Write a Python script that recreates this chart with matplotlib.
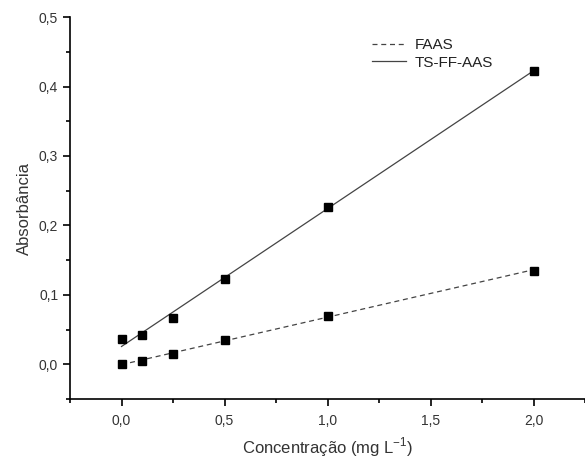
import numpy as np
import matplotlib
matplotlib.use("Agg")
import matplotlib.pyplot as plt
from matplotlib.ticker import FuncFormatter, MultipleLocator

conc = [0.0, 0.1, 0.25, 0.5, 1.0, 2.0]
faas = [0.0, 0.005, 0.015, 0.035, 0.070, 0.135]
tsff = [0.037, 0.042, 0.066, 0.123, 0.227, 0.423]

plt.rcParams['font.family'] = ['Liberation Sans', 'DejaVu Sans']

fig = plt.figure(figsize=(5.85, 4.61), dpi=100)
ax = fig.add_axes([0.1197, 0.1345, 0.8803, 0.8285])

x = np.array(conc)
xf = np.array([0.0, 2.0])
p1 = np.polyfit(x, faas, 1)
p2 = np.polyfit(x, tsff, 1)

ax.plot(xf, np.polyval(p1, xf), color='#444444', lw=0.9, ls=(0, (4, 3)), label='FAAS')
ax.plot(xf, np.polyval(p2, xf), color='#444444', lw=0.9, ls='-', label='TS-FF-AAS')
ax.plot(conc, faas, 's', color='black', ms=6, ls='none')
ax.plot(conc, tsff, 's', color='black', ms=6, ls='none')

ax.set_xlim(-0.25, 2.25)
ax.set_ylim(-0.05, 0.5)
ax.xaxis.set_major_locator(MultipleLocator(0.5))
ax.xaxis.set_minor_locator(MultipleLocator(0.25))
ax.yaxis.set_major_locator(MultipleLocator(0.1))
ax.yaxis.set_minor_locator(MultipleLocator(0.05))
fmt = FuncFormatter(lambda v, pos: f"{v:.1f}".replace('.', ','))
ax.xaxis.set_major_formatter(fmt)
ax.yaxis.set_major_formatter(fmt)
ax.set_xticks([0.0, 0.5, 1.0, 1.5, 2.0])

for s in ['top', 'right']:
    ax.spines[s].set_visible(False)
for s in ['left', 'bottom']:
    ax.spines[s].set_linewidth(1.2)
ax.tick_params(which='major', direction='out', length=5, width=1.2, labelsize=10, colors='black', labelcolor='#333333')
ax.tick_params(which='minor', direction='out', length=3, width=1.2)
ax.tick_params(axis='x', which='major', pad=6)

ax.set_xlabel('Concentração (mg L$^{\\mathregular{-1}}$)', fontsize=12, color='#333333', labelpad=5)
ax.set_ylabel('Absorbância', fontsize=12, color='#333333', labelpad=5)

ax.legend(loc='upper left', bbox_to_anchor=(0.56, 0.98), frameon=False, fontsize=11,
          handlelength=2.2, handletextpad=0.6, labelspacing=0.2, labelcolor='#222222')

fig.savefig('out.png', dpi=100)
